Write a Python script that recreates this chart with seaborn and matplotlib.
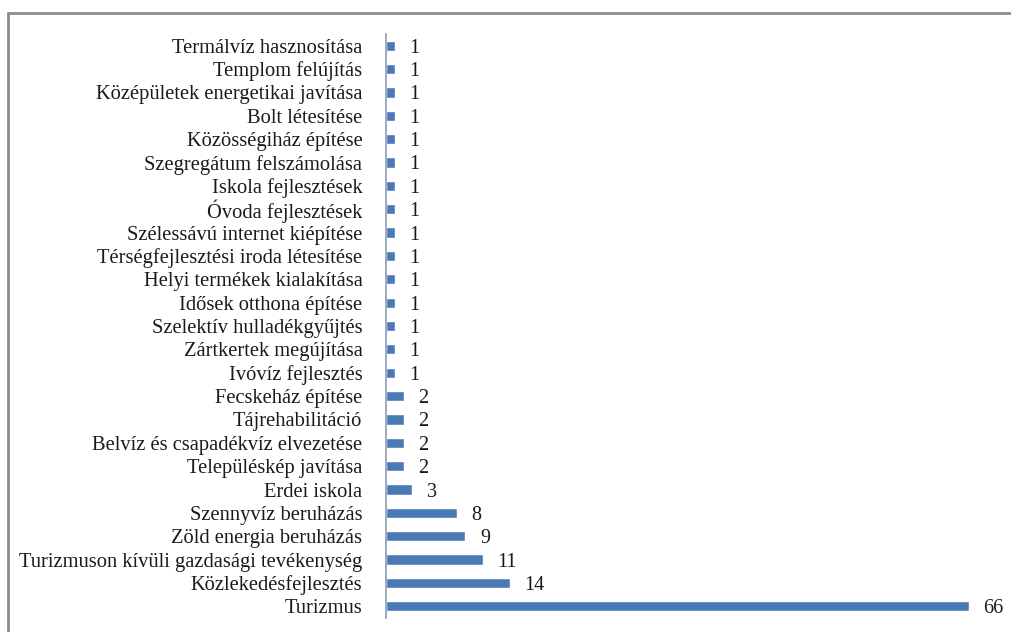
import matplotlib
matplotlib.use("Agg")
import matplotlib.pyplot as plt
import seaborn as sns
import pandas as pd
from matplotlib.lines import Line2D

categories = [
    "Termálvíz hasznosítása",
    "Templom felújítás",
    "Középületek energetikai javítása",
    "Bolt létesítése",
    "Közösségiház építése",
    "Szegregátum felszámolása",
    "Iskola fejlesztések",
    "Óvoda fejlesztések",
    "Szélessávú internet kiépítése",
    "Térségfejlesztési iroda létesítése",
    "Helyi termékek kialakítása",
    "Idősek otthona építése",
    "Szelektív hulladékgyűjtés",
    "Zártkertek megújítása",
    "Ivóvíz fejlesztés",
    "Fecskeház építése",
    "Tájrehabilitáció",
    "Belvíz és csapadékvíz elvezetése",
    "Településkép javítása",
    "Erdei iskola",
    "Szennyvíz beruházás",
    "Zöld energia beruházás",
    "Turizmuson kívüli gazdasági tevékenység",
    "Közlekedésfejlesztés",
    "Turizmus",
]
values = [1, 1, 1, 1, 1, 1, 1, 1, 1, 1, 1, 1, 1, 1, 1,
          2, 2, 2, 2, 3, 8, 9, 11, 14, 66]

df = pd.DataFrame({"cat": categories, "val": values})

sns.set_theme(style="white")
plt.rcParams["font.family"] = ["Liberation Serif", "DejaVu Serif"]

fig = plt.figure(figsize=(10.12, 6.32), dpi=100)
ax = fig.add_axes([386 / 1012, 1 - 618 / 632, 1 - 386 / 1012, (618 - 34) / 632])

sns.barplot(data=df, x="val", y="cat", orient="h", color="#4A7AB5",
            saturation=1, width=0.44, ax=ax)

ax.set_xlim(0, 70.9)
ax.set_ylim(24.5, -0.5)
ax.set_xlabel("")
ax.set_ylabel("")
ax.set_xticks([])
for s in ["top", "right", "bottom"]:
    ax.spines[s].set_visible(False)
ax.spines["left"].set_color("#8A9BB8")
ax.spines["left"].set_linewidth(1.2)
ax.tick_params(axis="y", length=0, pad=17, labelsize=14.8, labelcolor="#1a1a1a")

for i, v in enumerate(values):
    ax.annotate(str(v), xy=(v, i), xytext=(10.5, 0), textcoords="offset points",
                ha="left", va="center_baseline", fontsize=14.5, color="#1a1a1a")

fig.add_artist(Line2D([8 / 1012, 8 / 1012], [0, 1 - 13 / 632],
                      transform=fig.transFigure, color="#8c8c8c", lw=2))
fig.add_artist(Line2D([8 / 1012, 1], [1 - 13 / 632, 1 - 13 / 632],
                      transform=fig.transFigure, color="#8c8c8c", lw=2))

fig.savefig("out.png", dpi=100)
